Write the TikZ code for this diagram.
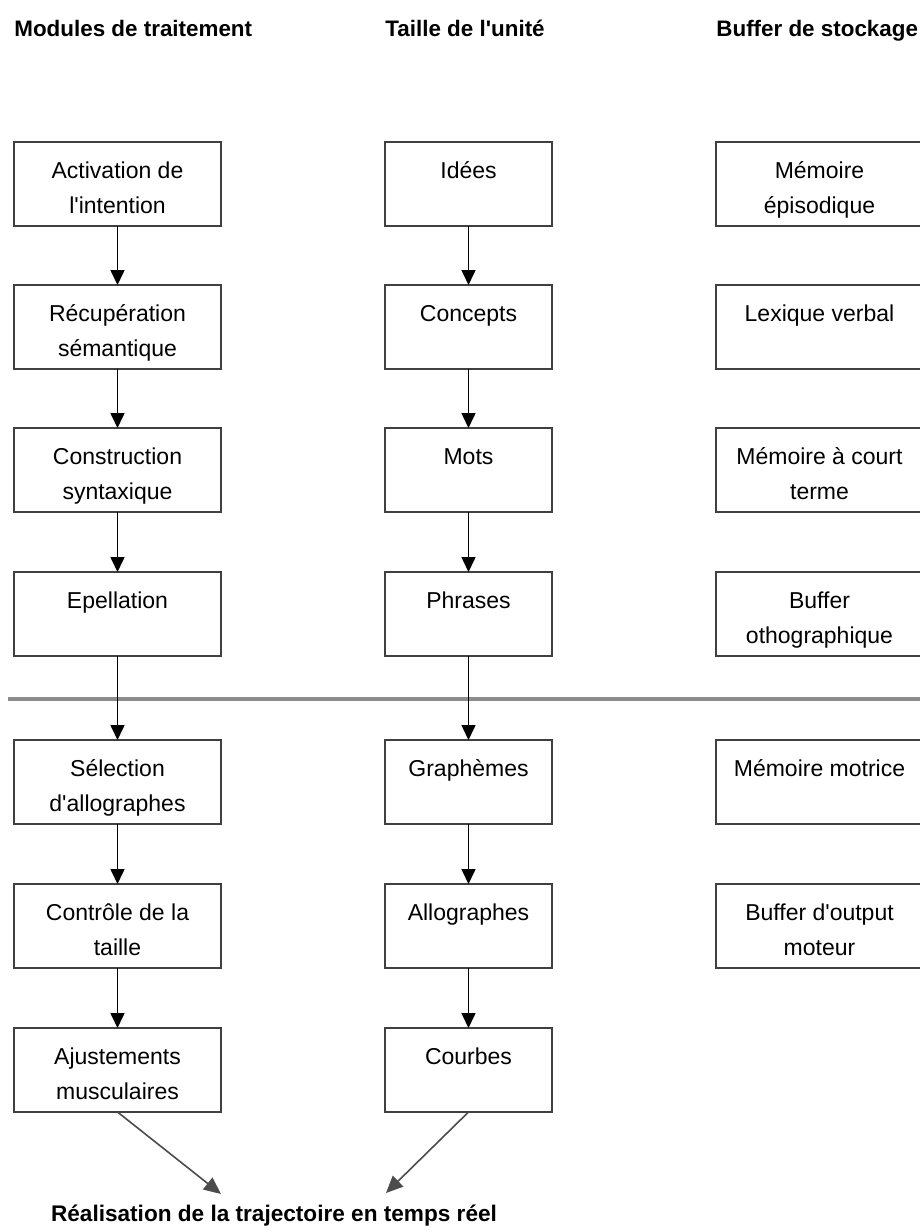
\documentclass[tikz,border=0pt]{standalone}
\usepackage{fontspec}
\setmainfont{Liberation Sans}[Ligatures=TeXOff]
\usetikzlibrary{arrows.meta}
\newcommand{\bxt}[2]{\parbox[c][42pt][t]{#1}{\centering\rule{0pt}{18pt}#2}}
\tikzset{
  boxw/.style={draw=black!75, line width=1pt, inner sep=0pt, outer sep=0pt, fill=white},
  flow/.style={draw=black, line width=0.8pt, -{Triangle[length=7.5pt,width=7pt]}},
  diag/.style={draw=black!70, line width=0.8pt, -{Triangle[length=8.5pt,width=7.5pt]}},
  hdr/.style={font=\fontsize{11.2}{13}\selectfont\bfseries, anchor=base west, inner sep=0pt},
}
\begin{document}
\begin{tikzpicture}[x=0.5pt,y=-0.5pt,every node/.append style={font=\fontsize{11.5}{17.5}\selectfont}]
\useasboundingbox (0,0) rectangle (920,1232);
\fill[white] (0,0) rectangle (920,1232);
% headers
\node[hdr] (h1) at (14,36) {Modules de traitement};
\node[hdr] (h2) at (385,36) {Taille de l'unité};
\node[hdr] (h3) at (716,36) {Buffer de stockage};
% left column
\node[boxw] (a1) at (117.5,184) {\bxt{103.5pt}{Activation de\\l'intention}};
\node[boxw] (a2) at (117.5,327) {\bxt{103.5pt}{Récupération\\sémantique}};
\node[boxw] (a3) at (117.5,470) {\bxt{103.5pt}{Construction\\syntaxique}};
\node[boxw] (a4) at (117.5,614) {\bxt{103.5pt}{Epellation}};
\node[boxw] (a5) at (117.5,782) {\bxt{103.5pt}{Sélection\\d'allographes}};
\node[boxw] (a6) at (117.5,926) {\bxt{103.5pt}{Contrôle de la\\taille}};
\node[boxw] (a7) at (117.5,1070) {\bxt{103.5pt}{Ajustements\\musculaires}};
% middle column
\node[boxw] (b1) at (468.5,184) {\bxt{83.5pt}{Idées}};
\node[boxw] (b2) at (468.5,327) {\bxt{83.5pt}{Concepts}};
\node[boxw] (b3) at (468.5,470) {\bxt{83.5pt}{Mots}};
\node[boxw] (b4) at (468.5,614) {\bxt{83.5pt}{Phrases}};
\node[boxw] (b5) at (468.5,782) {\bxt{83.5pt}{Graphèmes}};
\node[boxw] (b6) at (468.5,926) {\bxt{83.5pt}{Allographes}};
\node[boxw] (b7) at (468.5,1070) {\bxt{83.5pt}{Courbes}};
% right column
\node[boxw] (c1) at (819.5,184) {\bxt{103.5pt}{Mémoire\\épisodique}};
\node[boxw] (c2) at (819.5,327) {\bxt{103.5pt}{Lexique verbal}};
\node[boxw] (c3) at (819.5,470) {\bxt{103.5pt}{Mémoire à court\\terme}};
\node[boxw] (c4) at (819.5,614) {\bxt{103.5pt}{Buffer\\othographique}};
\node[boxw] (c5) at (819.5,782) {\bxt{103.5pt}{Mémoire motrice}};
\node[boxw] (c6) at (819.5,926) {\bxt{103.5pt}{Buffer d'output\\moteur}};
% separator
\coordinate (s1) at (8,699);
\coordinate (s2) at (925,699);
\draw[black!45, line width=1.6pt] (s1) -- (s2);
% arrows
\foreach \u/\v in {a1/a2,a2/a3,a3/a4,a4/a5,a5/a6,a6/a7,b1/b2,b2/b3,b3/b4,b4/b5,b5/b6,b6/b7}
  \draw[flow] (\u.south) -- (\v.north);
% bottom
\node[font=\fontsize{11.3}{13}\selectfont\bfseries, inner sep=0pt] (r) at (274,1216) {Réalisation de la trajectoire en temps réel};
\coordinate (t1) at (221,1194);
\coordinate (t2) at (386,1193);
\draw[diag] (a7.south) -- (t1);
\draw[diag] (b7.south) -- (t2);
\end{tikzpicture}
\end{document}
